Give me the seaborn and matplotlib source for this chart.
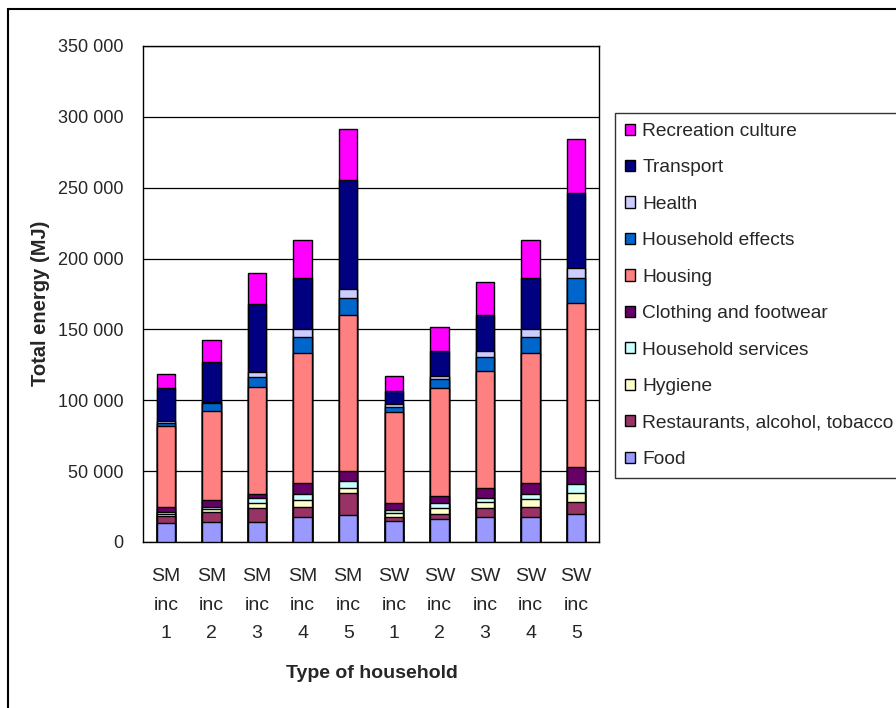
import matplotlib
matplotlib.use("Agg")
import matplotlib.pyplot as plt
from matplotlib.patches import Patch, Rectangle
from matplotlib.ticker import FuncFormatter, FixedLocator
import numpy as np
import pandas as pd
import seaborn as sns

# Household types (income quintiles for SM and SW households)
households = ["SM\ninc\n1", "SM\ninc\n2", "SM\ninc\n3", "SM\ninc\n4", "SM\ninc\n5",
              "SW\ninc\n1", "SW\ninc\n2", "SW\ninc\n3", "SW\ninc\n4", "SW\ninc\n5"]

# Energy use per consumption category (MJ), one value per household type
food        = [13200, 14300, 14300, 17400, 18800, 14800, 16000, 17400, 17400, 19800]
restaurants = [4900, 7100, 9900, 7100, 15600, 2800, 4000, 6400, 7500, 8600]
hygiene     = [1900, 1900, 3600, 5100, 3900, 3100, 3800, 4600, 5200, 6400]
services    = [1400, 1600, 3200, 4000, 5000, 1900, 3500, 2900, 3500, 5900]
clothing    = [3500, 4700, 2600, 8300, 7000, 4700, 5200, 7000, 8300, 12000]
housing     = [56700, 63100, 76000, 91300, 109800, 64200, 76400, 82600, 91300, 116200]
effects     = [2100, 5200, 7100, 11300, 12300, 4000, 6100, 9900, 11200, 17200]
health      = [1400, 1100, 3100, 6000, 6100, 1700, 2400, 4000, 5900, 7100]
transport   = [23600, 28200, 48200, 35600, 77000, 9400, 17400, 25400, 35800, 52900]
recreation  = [9900, 15300, 21800, 26800, 35700, 10800, 16900, 23300, 26800, 38100]

# Stack order, bottom to top
categories = ["Food", "Restaurants, alcohol, tobacco", "Hygiene", "Household services",
              "Clothing and footwear", "Housing", "Household effects", "Health",
              "Transport", "Recreation culture"]
series = [food, restaurants, hygiene, services, clothing, housing, effects, health,
          transport, recreation]
colors = ["#9999FF", "#993366", "#FFFFCC", "#CCFFFF", "#660066", "#FF8080",
          "#0066CC", "#CCCCFF", "#000080", "#FF00FF"]

sns.set_style("white")
plt.rcParams["font.family"] = ["Liberation Sans", "DejaVu Sans"]

W, H = 896, 708
fig = plt.figure(figsize=(W / 100, H / 100), dpi=100)
ax = fig.add_axes([143 / W, 1 - 542 / H, (599 - 143) / W, (542 - 46) / H])

# Running totals so each category sits on the ones below it
df = pd.DataFrame({cat: vals for cat, vals in zip(categories, series)}, index=households)
cum = df.cumsum(axis=1)

# Draw tallest cumulative bars first; each lower total covers the part beneath it
for cat, col in reversed(list(zip(categories, colors))):
    part = pd.DataFrame({"household": households, "total": cum[cat].values})
    sns.barplot(data=part, x="household", y="total", order=households, color=col,
                saturation=1, width=0.4, edgecolor="black", linewidth=1.0,
                errorbar=None, ax=ax, zorder=3)

ax.set_ylim(0, 350000)
ax.set_xlim(-0.5, len(households) - 0.5)
ax.yaxis.set_major_locator(FixedLocator(np.arange(0, 350001, 50000)))
ax.yaxis.set_major_formatter(FuncFormatter(lambda v, p: f"{int(v):,}".replace(",", " ")))
ax.grid(axis="y", color="black", linewidth=0.9, zorder=0)
ax.set_axisbelow(True)
for s in ax.spines.values():
    s.set_visible(True)
    s.set_color("black")
    s.set_linewidth(1.0)

ax.tick_params(axis="y", which="major", direction="out", length=6, width=1,
               color="black", pad=8, labelsize=13)
ax.tick_params(axis="x", which="major", length=0, pad=19, labelsize=14)
ax.set_xticks(range(len(households)))
ax.set_xticklabels(households)
for t in ax.get_xticklabels():
    t.set_linespacing(1.88)
ax.set_xticks(np.arange(-0.5, len(households), 1.0), minor=True)
ax.tick_params(axis="x", which="minor", direction="out", length=6, width=1, color="black")

ax.set_xlabel("")
ax.set_ylabel("")
fig.text(372 / W, 1 - 674 / H, "Type of household", ha="center", va="center",
         fontsize=14, fontweight="bold")
fig.text(40 / W, 1 - 303 / H, "Total energy (MJ)", ha="center", va="center",
         rotation=90, fontsize=14.5, fontweight="bold")

# Legend lists the top of the stack first
handles = [Patch(facecolor=c, edgecolor="black", linewidth=1.0, label=n)
           for n, c in reversed(list(zip(categories, colors)))]
leg = fig.legend(handles=handles, loc="upper left", bbox_to_anchor=(615 / W, 1 - 113 / H),
                 frameon=True, fancybox=False, edgecolor="black", fontsize=13.8,
                 handlelength=0.52, handleheight=0.52, handletextpad=0.38,
                 labelspacing=1.015, borderpad=0.52, borderaxespad=0)
leg.get_frame().set_linewidth(1.0)

# Chart area border
fig.patches.append(Rectangle((8 / W, -0.05), 1.0, 1 - 9 / H + 0.05, transform=fig.transFigure,
                             fill=False, edgecolor="black", linewidth=1.5))

fig.savefig("out.png", dpi=100)
